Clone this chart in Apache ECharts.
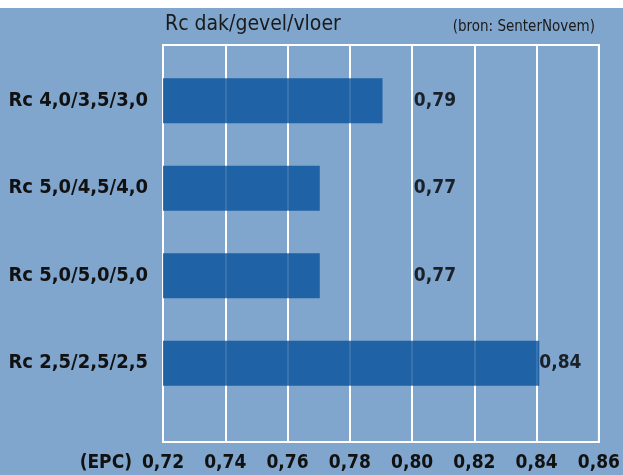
<!DOCTYPE html>
<html>
<head>
<meta charset="utf-8">
<script src="https://cdn.jsdelivr.net/npm/echarts@6/dist/echarts.min.js"></script>
<style>
  html, body { margin: 0; padding: 0; background: #fff; }
  #chart { width: 623px; height: 475px; }
</style>
</head>
<body>
<div id="chart"></div>
<script>
// Rc dak/gevel/vloer -> EPC
var categories = ["Rc 4,0/3,5/3,0", "Rc 5,0/4,5/4,0", "Rc 5,0/5,0/5,0", "Rc 2,5/2,5/2,5"];
var epc = [0.79, 0.77, 0.77, 0.84];
var xMin = 0.72;
var xMax = 0.86;
var xStep = 0.02;
var labelFloor = 0.80; // value labels never sit left of this gridline

var font = "DejaVu Sans Condensed";
var color = ["#80a6cd", "#08519c", "#ffffff", "#111111"];

function comma(v, d) {
  return v.toFixed(d).replace(".", ",");
}

var chart = echarts.init(document.getElementById("chart"));

var option = {
  backgroundColor: color[0],
  animation: false,
  title: [
    {
      text: "Rc dak/gevel/vloer",
      left: 160,
      top: 9,
      textStyle: { fontFamily: font, fontWeight: "normal", fontSize: 21, color: "#1a1a1a" }
    },
    {
      text: "(bron: SenterNovem)",
      right: 23,
      top: 15,
      textStyle: { fontFamily: font, fontWeight: "normal", fontSize: 15, color: "#1a1a1a" }
    }
  ],
  graphic: [
    {
      type: "rect",
      shape: { x: 0, y: 0, width: 623, height: 8 },
      style: { fill: "#ffffff" },
      silent: true
    },
    {
      type: "text",
      right: 623 - 132,
      top: 454,
      style: { text: "(EPC)", font: "bold 19px '" + font + "'", fill: color[3] }
    }
  ],
  grid: [
    // frame with the white gridlines
    { left: 163, right: 21, top: 45, bottom: 33, show: true, borderColor: color[2], borderWidth: 2 },
    // bars
    { left: 163, right: 21, top: 57, height: 350 }
  ],
  xAxis: [
    {
      gridIndex: 0,
      type: "value",
      min: xMin,
      max: xMax,
      interval: xStep,
      axisLine: { show: false },
      axisTick: { show: false },
      splitLine: { lineStyle: { color: color[2], width: 2 } },
      axisLabel: {
        margin: 12,
        fontFamily: font,
        fontWeight: "bold",
        fontSize: 19,
        color: color[3],
        formatter: function (v) { return comma(v, 2); }
      }
    },
    {
      gridIndex: 1,
      type: "value",
      min: xMin,
      max: xMax,
      interval: xStep,
      show: false,
      splitLine: { show: false }
    }
  ],
  yAxis: [
    { gridIndex: 0, type: "value", show: false, splitLine: { show: false } },
    {
      gridIndex: 1,
      type: "category",
      inverse: true,
      data: categories,
      axisLine: { show: false },
      axisTick: { show: false },
      axisLabel: {
        margin: 15,
        fontFamily: font,
        fontWeight: "bold",
        fontSize: 20,
        color: color[3]
      }
    }
  ],
  series: [
    {
      name: "EPC",
      type: "bar",
      xAxisIndex: 1,
      yAxisIndex: 1,
      barWidth: 45,
      itemStyle: { color: color[1], opacity: 0.8 },
      data: epc
    },
    {
      name: "label",
      type: "scatter",
      xAxisIndex: 1,
      yAxisIndex: 1,
      symbolSize: 0,
      silent: true,
      z: 6,
      data: epc.map(function (v, i) {
        return { value: [Math.max(v, labelFloor), categories[i]], epc: v };
      }),
      label: {
        show: true,
        position: "right",
        distance: 0,
        fontFamily: font,
        fontWeight: "bold",
        fontSize: 19,
        color: "#000",
        formatter: function (p) { return comma(p.data.epc, 2); }
      }
    }
  ]
};

chart.setOption(option, true);
</script>
</body>
</html>
